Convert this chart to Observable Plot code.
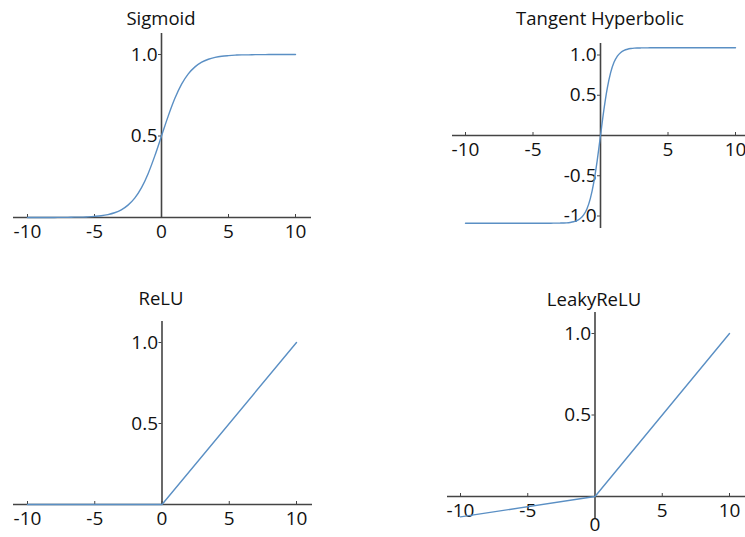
<!DOCTYPE html>
<html><head><meta charset="utf-8">
<script src="https://cdn.jsdelivr.net/npm/d3@7"></script>
<script src="https://cdn.jsdelivr.net/npm/@observablehq/plot@0.6"></script>
<style>
html,body{margin:0;padding:0;background:#fff;}
#wrap{position:relative;width:745px;height:537px;overflow:hidden;font-family:"Open Sans",sans-serif;}
.panel{position:absolute;left:0;top:0;}
.title{position:absolute;transform:translate(-50%,-50%);font-size:18.5px;color:#111;white-space:nowrap;font-family:"Open Sans",sans-serif;}
</style></head><body><div id="wrap"></div>
<script>
// ---- data ----
const sigmoidX = [-10,-9.5,-9,-8.5,-8,-7.5,-7,-6.5,-6,-5.5,-5,-4.5,-4,-3.5,-3,-2.5,-2,-1.5,-1,-0.5,0,0.5,1,1.5,2,2.5,3,3.5,4,4.5,5,5.5,6,6.5,7,7.5,8,8.5,9,9.5,10];
const sigmoidY = [0,0,0,0,0,0.001,0.001,0.002,0.002,0.004,0.007,0.011,0.018,0.029,0.047,0.076,0.119,0.182,0.269,0.378,0.5,0.622,0.731,0.818,0.881,0.924,0.953,0.971,0.982,0.989,0.993,0.996,0.998,0.998,0.999,0.999,1,1,1,1,1];

const tanhX = [-10,-9,-8,-7,-6,-5,-4,-3.5,-3,-2.75,-2.5,-2.25,-2,-1.75,-1.5,-1.25,-1,-0.75,-0.5,-0.25,0,0.25,0.5,0.75,1,1.25,1.5,1.75,2,2.25,2.5,2.75,3,3.5,4,5,6,7,8,9,10];
const tanhY = [-1.09,-1.09,-1.09,-1.09,-1.09,-1.09,-1.09,-1.089,-1.088,-1.087,-1.085,-1.08,-1.072,-1.058,-1.032,-0.987,-0.909,-0.781,-0.585,-0.318,0,0.318,0.585,0.781,0.909,0.987,1.032,1.058,1.072,1.08,1.085,1.087,1.088,1.089,1.09,1.09,1.09,1.09,1.09,1.09,1.09];

const reluX = [-10,0,10];
const reluY = [0,0,1];

const leakyX = [-10,0,10];
const leakyY = [-0.125,0,1];

const xTicksFull = [-10,-5,0,5,10];
const xTicksNoZero = [-10,-5,5,10];
const yTicksPos = [0.5,1.0];
const yTicksSym = [-1.0,-0.5,0.5,1.0];

const titles = ["Sigmoid","Tangent Hyperbolic","ReLU","LeakyReLU"];

// ---- layout ----
const W = 745, H = 537;
const FONT = "Open Sans, sans-serif";
const AXIS = "#444";
const LINE = "#5a8fc4";
const TICKFS = 19;

const panels = [
  {title: titles[0], tx: 161, ty: 17, xs: sigmoidX, ys: sigmoidY, xt: xTicksFull, yt: yTicksPos, curve: "monotone-x",
   L: 13, R: 311, T: 33, B: 217, xm10: 27, xp10: 295, y0: 217, y1: 54},
  {title: titles[1], tx: 600, ty: 17, xs: tanhX, ys: tanhY, xt: xTicksNoZero, yt: yTicksSym, curve: "monotone-x",
   L: 452, R: 745, T: 43, B: 228, xm10: 465, xp10: 735, y0: 135, y1: 54.5},
  {title: titles[2], tx: 161, ty: 297, xs: reluX, ys: reluY, xt: xTicksFull, yt: yTicksPos, curve: "linear",
   L: 13, R: 312, T: 321, B: 504, xm10: 27, xp10: 296, y0: 504, y1: 342},
  {title: titles[3], tx: 594, ty: 298, xs: leakyX, ys: leakyY, xt: xTicksNoZero, yt: yTicksPos, curve: "linear",
   L: 447, R: 745, T: 312, B: 518, xm10: 460, xp10: 729, y0: 496, y1: 333, lowZero: true}
];

const wrap = document.getElementById("wrap");

for (const p of panels) {
  const kx = (p.xp10 - p.xm10) / 20;
  const ky = p.y0 - p.y1;
  const xDomain = [-10 + (p.L - p.xm10) / kx, -10 + (p.R - p.xm10) / kx];
  const yDomain = [(p.y0 - p.B) / ky, (p.y0 - p.T) / ky];
  const data = p.xs.map((x, i) => ({x, y: p.ys[i]}));
  const marks = [
    Plot.ruleY([0], {stroke: AXIS, strokeWidth: 1.4}),
    Plot.ruleX([0], {stroke: AXIS, strokeWidth: 1.6}),
    Plot.ruleY(p.yt, {y: d => d, x1: 0, x2: 0, insetLeft: -3, stroke: AXIS, strokeWidth: 1}),
    Plot.ruleX(p.xt, {x: d => d, y1: 0, y2: 0, insetTop: -3, stroke: AXIS, strokeWidth: 1}),
    Plot.text(p.xt, {x: d => d, y: 0, text: d => String(d), dy: 14, fontSize: TICKFS, fill: "#111", fontFamily: FONT}),
    Plot.text(p.yt, {x: 0, y: d => d, text: d => d.toFixed(1), textAnchor: "end", dx: -4, fontSize: TICKFS, fill: "#111", fontFamily: FONT})
  ];
  if (p.lowZero) {
    marks.push(Plot.text([0], {x: d => d, y: 0, text: d => String(d), dy: 28, fontSize: TICKFS, fill: "#111", fontFamily: FONT}));
  }
  marks.push(Plot.line(data, {x: "x", y: "y", stroke: LINE, strokeWidth: 1.4, curve: p.curve}));
  const chart = Plot.plot({
    width: W, height: H,
    marginLeft: p.L, marginRight: W - p.R, marginTop: p.T, marginBottom: H - p.B,
    x: {domain: xDomain, axis: null},
    y: {domain: yDomain, axis: null},
    style: {background: "transparent", overflow: "visible", fontFamily: FONT, maxWidth: "none"},
    marks
  });
  chart.classList.add("panel");
  chart.style.position = "absolute";
  chart.style.left = "0px";
  chart.style.top = "0px";
  wrap.appendChild(chart);
  const t = document.createElement("div");
  t.className = "title";
  t.textContent = p.title;
  t.style.left = p.tx + "px";
  t.style.top = p.ty + "px";
  wrap.appendChild(t);
}
</script>
</body></html>
